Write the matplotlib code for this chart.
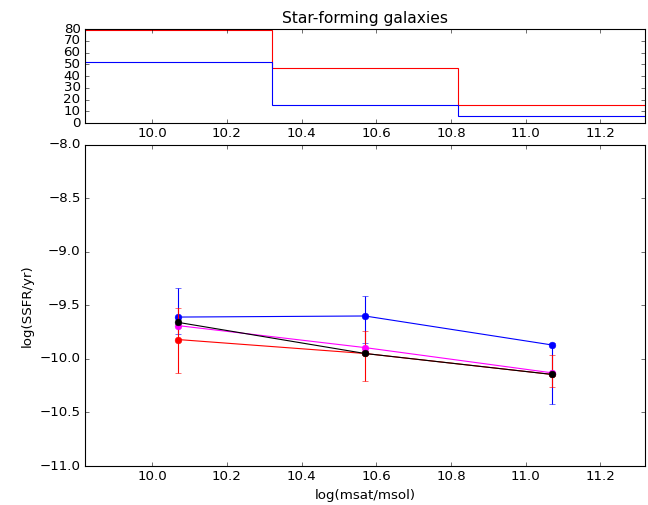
import matplotlib
matplotlib.use("Agg")
import matplotlib.pyplot as plt

plt.style.use("classic")
plt.rcParams["font.family"] = ["DejaVu Sans"]

# Stellar-mass bins (log msat/msol)
mass_edges = [9.82, 10.32, 10.82, 11.32]
mass_centres = [10.07, 10.57, 11.07]

# Number of galaxies per mass bin
counts_red = [79, 47, 15]
counts_blue = [52, 15, 6]

# Median log specific star formation rate per bin
ssfr_blue = [-9.61, -9.60, -9.87]
err_blue_lo = [0.16, 0.25, 0.55]
err_blue_hi = [0.27, 0.19, 0.02]

ssfr_red = [-9.82, -9.95, -10.145]
err_red_lo = [0.31, 0.26, 0.12]
err_red_hi = [0.29, 0.21, 0.18]

ssfr_magenta = [-9.69, -9.895, -10.13]
ssfr_black = [-9.66, -9.95, -10.145]

fig = plt.figure(figsize=(8.1, 6.3125), dpi=80, facecolor="white")
ax_top = fig.add_axes([0.1312, 0.7564, 0.8642, 0.1861])
ax = fig.add_axes([0.1312, 0.0772, 0.8642, 0.6366])

# Upper panel: galaxy counts per bin
ax_top.stairs(counts_red, mass_edges, color="red", linewidth=1, baseline=None)
ax_top.stairs(counts_blue, mass_edges, color="blue", linewidth=1, baseline=None)
ax_top.set_xlim(mass_edges[0], mass_edges[-1])
ax_top.set_ylim(0, 80)
ax_top.set_yticks(range(0, 81, 10))
ax_top.set_xticks([10.0, 10.2, 10.4, 10.6, 10.8, 11.0, 11.2])
ax_top.set_title("Star-forming galaxies", fontsize=14)

# Lower panel: SSFR versus stellar mass
ax.errorbar(mass_centres, ssfr_blue, yerr=[err_blue_lo, err_blue_hi],
            color="blue", marker="o", markersize=6, linewidth=1,
            capsize=3, elinewidth=1, markeredgecolor="blue", zorder=2)
ax.errorbar(mass_centres, ssfr_red, yerr=[err_red_lo, err_red_hi],
            color="red", marker="o", markersize=6, linewidth=1,
            capsize=3, elinewidth=1, markeredgecolor="red", zorder=3)
ax.plot(mass_centres, ssfr_magenta, color="magenta", marker="o",
        markersize=6, linewidth=1, markeredgecolor="magenta", zorder=4)
ax.plot(mass_centres, ssfr_black, color="black", marker="o",
        markersize=6, linewidth=1, markeredgecolor="black", zorder=5)

ax.set_xlim(mass_edges[0], mass_edges[-1])
ax.set_ylim(-11.0, -8.0)
ax.set_yticks([-11.0, -10.5, -10.0, -9.5, -9.0, -8.5, -8.0])
ax.set_xticks([10.0, 10.2, 10.4, 10.6, 10.8, 11.0, 11.2])
ax.set_xlabel("log(msat/msol)")
ax.set_ylabel("log(SSFR/yr)")

fig.savefig("out.png", dpi=80, facecolor="white")
